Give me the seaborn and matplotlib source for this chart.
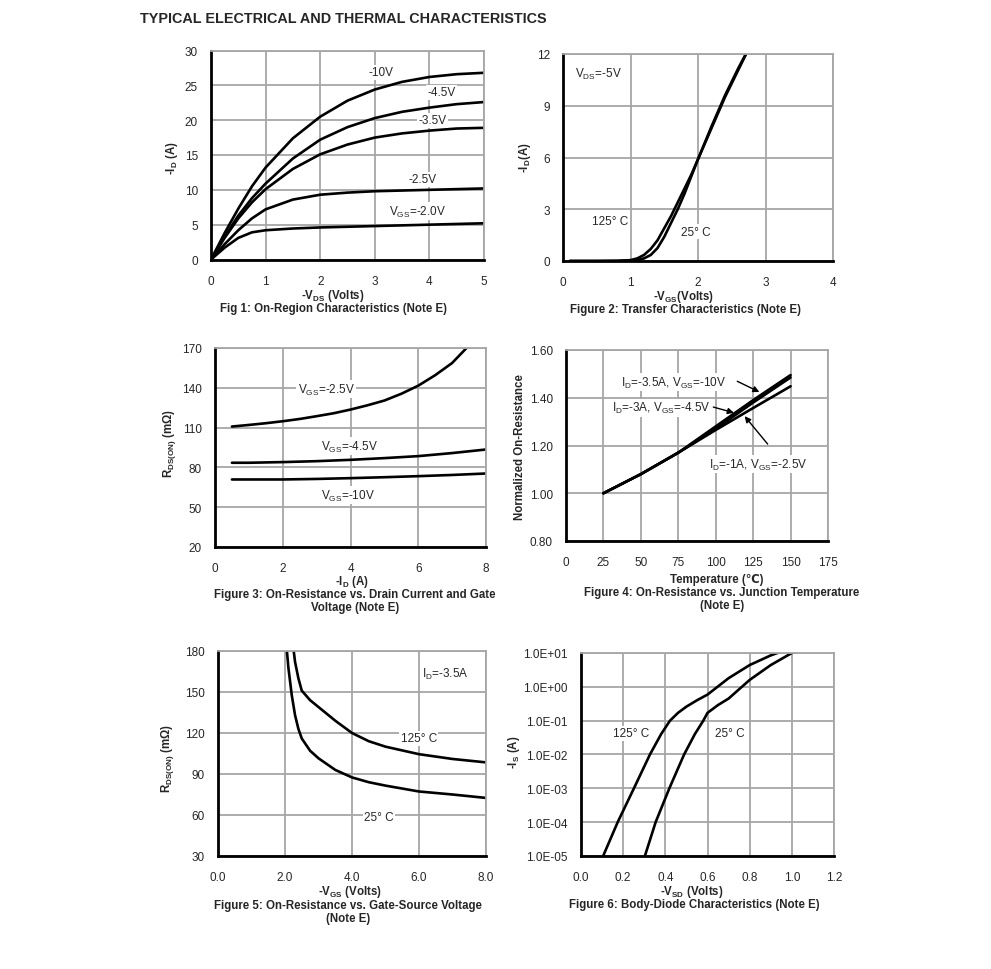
import matplotlib
matplotlib.use("Agg")
import matplotlib.pyplot as plt
import pandas as pd
import seaborn as sns

W, H = 991, 970
GRID = "#a6a6a6"
LW = 1.9

# Fig 1: on-region characteristics
vds = [0, 0.25, 0.5, 0.75, 1, 1.5, 2, 2.5, 3, 3.5, 4, 4.5, 5]
id_vgs_10 = [0, 3.8, 7.3, 10.5, 13.2, 17.4, 20.5, 22.8, 24.4, 25.5, 26.2, 26.6, 26.8]
id_vgs_45 = [0, 3.3, 6.3, 8.8, 10.9, 14.5, 17.2, 19.0, 20.3, 21.2, 21.8, 22.3, 22.6]
id_vgs_35 = [0, 3.1, 5.9, 8.2, 10.1, 13.0, 15.1, 16.5, 17.5, 18.1, 18.5, 18.8, 18.9]
id_vgs_25 = [0, 2.2, 4.2, 5.9, 7.2, 8.6, 9.3, 9.6, 9.8, 9.9, 10.0, 10.1, 10.2]
id_vgs_20 = [0, 1.7, 3.1, 3.9, 4.2, 4.45, 4.6, 4.7, 4.8, 4.9, 5.0, 5.1, 5.2]

# Fig 2: transfer characteristics
vgs_t = [0.1, 0.5, 0.8, 1.0, 1.1, 1.2, 1.3, 1.4, 1.5, 1.6, 1.7, 1.8, 1.9, 2.0, 2.2, 2.4, 2.6, 2.75]
id_t125 = [0, 0, 0.01, 0.05, 0.15, 0.35, 0.7, 1.2, 1.9, 2.6, 3.4, 4.2, 5.0, 5.9, 7.7, 9.5, 11.1, 12.3]
id_t25 = [0, 0, 0.005, 0.02, 0.06, 0.15, 0.35, 0.75, 1.4, 2.2, 3.0, 3.9, 4.9, 5.9, 7.8, 9.6, 11.2, 12.3]

# Fig 3: Rds(on) vs drain current
id_r25 = [0.5, 1, 1.5, 2, 2.5, 3, 3.5, 4, 4.5, 5, 5.5, 6, 6.5, 7, 7.5]
r_vgs25 = [110.8, 112, 113.3, 114.8, 116.5, 118.6, 120.8, 123.6, 126.8, 130.4, 135.5, 141.6, 149.5, 158.7, 172]
id_r = [0.5, 1, 2, 3, 4, 5, 6, 7, 8]
r_vgs45 = [83.5, 83.5, 84.0, 84.7, 85.7, 87.0, 88.5, 90.8, 93.5]
r_vgs10 = [70.9, 70.9, 70.9, 71.3, 71.9, 72.6, 73.4, 74.3, 75.4]

# Fig 4: normalized Rds(on) vs temperature
temp = [25, 50, 75, 100, 125, 150]
rn_10v = [1.00, 1.08, 1.17, 1.28, 1.39, 1.495]
rn_45v = [1.00, 1.08, 1.17, 1.27, 1.38, 1.485]
rn_25v = [1.00, 1.08, 1.17, 1.265, 1.357, 1.448]

# Fig 5: Rds(on) vs gate-source voltage
vgs_125 = [2.25, 2.3, 2.4, 2.5, 2.75, 3, 3.5, 4, 4.5, 5, 6, 7, 8]
r_125 = [182, 172, 160, 151, 144, 139, 129, 120, 114, 110, 104.5, 101, 98.5]
vgs_25 = [2.05, 2.1, 2.2, 2.3, 2.4, 2.5, 2.75, 3, 3.5, 4, 4.5, 5, 6, 7, 8]
r_25 = [182, 168, 148, 133, 123, 116, 107, 101.5, 93, 87.5, 84, 81.5, 77.2, 75, 72.5]

# Fig 6: body-diode characteristics
vsd_125 = [0.105, 0.174, 0.251, 0.327, 0.38, 0.422, 0.46, 0.5, 0.55, 0.6, 0.7, 0.8, 0.9, 0.95]
is_125 = [1e-5, 1e-4, 1e-3, 1e-2, 4e-2, 0.1, 0.17, 0.26, 0.4, 0.59, 1.8, 4.4, 8.5, 11]
vsd_25 = [0.303, 0.354, 0.419, 0.489, 0.54, 0.58, 0.6, 0.65, 0.7, 0.8, 0.9, 1.0, 1.02]
is_25 = [1e-5, 1e-4, 1e-3, 1e-2, 4e-2, 0.1, 0.17, 0.29, 0.45, 1.6, 4.4, 10, 11]

sns.set_style("white")
plt.rcParams["font.family"] = ["Liberation Sans", "DejaVu Sans"]
plt.rcParams["mathtext.fontset"] = "custom"
plt.rcParams["mathtext.rm"] = "Liberation Sans"
plt.rcParams["mathtext.bf"] = "Liberation Sans:bold"
plt.rcParams["axes.unicode_minus"] = False

fig = plt.figure(figsize=(W / 100, H / 100), dpi=100)


def make_ax(l, r, t, b):
    return fig.add_axes([l / W, 1 - b / H, (r - l) / W, (b - t) / H])


def ftext(x, y, s, **kw):
    kw.setdefault("fontsize", 8.3)
    kw.setdefault("fontweight", "bold")
    fig.text(x / W, 1 - y / H, s, ha="center", va="center", **kw)


def curve(ax, x, y):
    df = pd.DataFrame({"x": x, "y": y})
    sns.lineplot(data=df, x="x", y="y", ax=ax, color="black", lw=LW,
                 estimator=None, sort=False)


def style(ax, xlim, ylim, xticks, yticks):
    ax.set_xlim(xlim)
    ax.set_ylim(ylim)
    ax.set_xticks(xticks)
    ax.set_yticks(yticks)
    ax.grid(True, color=GRID, lw=1.3)
    ax.set_axisbelow(True)
    for s in ["top", "right"]:
        ax.spines[s].set_color(GRID)
        ax.spines[s].set_linewidth(1.3)
    for s in ["left", "bottom"]:
        ax.spines[s].set_color("black")
        ax.spines[s].set_linewidth(2)
    ax.tick_params(length=0, labelsize=8.5)
    ax.tick_params(axis="x", pad=11)
    ax.tick_params(axis="y", pad=9.5)
    ax.set_xlabel("")
    ax.set_ylabel("")


def label(ax, x, y, s, ha="center"):
    ax.text(x, y, s, ha=ha, va="center", fontsize=8.5,
            bbox=dict(facecolor="white", edgecolor="none", pad=1))


ftext(343, 19, "TYPICAL ELECTRICAL AND THERMAL CHARACTERISTICS", fontsize=10.4)

# ---- Fig 1
ax1 = make_ax(211, 484, 51.5, 260.5)
for ys in [id_vgs_10, id_vgs_45, id_vgs_35, id_vgs_25, id_vgs_20]:
    curve(ax1, vds, ys)
style(ax1, (0, 5), (0, 30), range(0, 6), range(0, 31, 5))
label(ax1, 3.12, 26.9, "-10V")
label(ax1, 4.22, 24.0, "-4.5V")
label(ax1, 4.06, 20.0, "-3.5V")
label(ax1, 3.88, 11.5, "-2.5V")
label(ax1, 3.79, 6.9, r"V$_\mathrm{GS}$=-2.0V")
ftext(172, 158, r"-I$_\mathbf{D}$ (A)", rotation=90)
ftext(333, 296, r"-V$_\mathbf{DS}$ (Volts)")
ftext(333, 309, "Fig 1: On-Region Characteristics (Note E)")

# ---- Fig 2
ax2 = make_ax(563, 833, 55, 262)
curve(ax2, vgs_t, id_t125)
curve(ax2, vgs_t, id_t25)
style(ax2, (0, 4), (0, 12), range(0, 5), range(0, 13, 3))
label(ax2, 0.18, 10.9, r"V$_\mathrm{DS}$=-5V", ha="left")
label(ax2, 0.70, 2.3, "125° C")
label(ax2, 1.97, 1.7, "25° C")
ftext(525, 158, r"-I$_\mathbf{D}$(A)", rotation=90)
ftext(683, 297, r"-V$_\mathbf{GS}$(Volts)")
ftext(685, 310, "Figure 2: Transfer Characteristics (Note E)")

# ---- Fig 3
ax3 = make_ax(215, 486, 349, 548)
curve(ax3, id_r25, r_vgs25)
curve(ax3, id_r, r_vgs45)
curve(ax3, id_r, r_vgs10)
style(ax3, (0, 8), (20, 170), range(0, 9, 2), range(20, 171, 30))
label(ax3, 3.29, 139.1, r"V$_\mathrm{GS}$=-2.5V")
label(ax3, 3.98, 96.0, r"V$_\mathrm{GS}$=-4.5V")
label(ax3, 3.93, 58.9, r"V$_\mathrm{GS}$=-10V")
ftext(170, 443, r"R$_\mathbf{DS(ON)}$ (mΩ)", rotation=90)
ftext(352, 582, r"-I$_\mathbf{D}$ (A)")
ftext(355, 595, "Figure 3: On-Resistance vs. Drain Current and Gate")
ftext(355, 608, "Voltage (Note E)")

# ---- Fig 4
ax4 = make_ax(566, 828, 351, 542)
curve(ax4, temp, rn_10v)
curve(ax4, temp, rn_45v)
curve(ax4, temp, rn_25v)
style(ax4, (0, 175), (0.8, 1.6), range(0, 176, 25), [0.8, 1.0, 1.2, 1.4, 1.6])
ax4.yaxis.set_major_formatter(plt.FuncFormatter(lambda v, p: f"{v:.2f}"))
label(ax4, 36.8, 1.466, r"I$_\mathrm{D}$=-3.5A, V$_\mathrm{GS}$=-10V", ha="left")
label(ax4, 30.8, 1.358, r"I$_\mathrm{D}$=-3A, V$_\mathrm{GS}$=-4.5V", ha="left")
label(ax4, 95.7, 1.122, r"I$_\mathrm{D}$=-1A, V$_\mathrm{GS}$=-2.5V", ha="left")
arrows = [((114.4, 1.469), (129.2, 1.424)),
          ((98.4, 1.361), (112.2, 1.337)),
          ((134.7, 1.206), (119.3, 1.323))]
for start, end in arrows:
    ax4.annotate("", xy=end, xytext=start,
                 arrowprops=dict(arrowstyle="-|>", color="black", lw=1,
                                 mutation_scale=9, shrinkA=0, shrinkB=0))
ftext(520, 447, "Normalized On-Resistance", rotation=90)
ftext(717, 580, "Temperature (℃)")
ftext(722, 593, "Figure 4: On-Resistance vs. Junction Temperature")
ftext(722, 606, "(Note E)")

# ---- Fig 5
ax5 = make_ax(218, 486, 652, 857)
curve(ax5, vgs_125, r_125)
curve(ax5, vgs_25, r_25)
style(ax5, (0, 8), (30, 180), range(0, 9, 2), range(30, 181, 30))
ax5.xaxis.set_major_formatter(plt.FuncFormatter(lambda v, p: f"{v:.1f}"))
label(ax5, 6.79, 163.5, r"I$_\mathrm{D}$=-3.5A")
label(ax5, 5.99, 116, "125° C")
label(ax5, 4.8, 58.4, "25° C")
ftext(168, 758, r"R$_\mathbf{DS(ON)}$ (mΩ)", rotation=90)
ftext(350, 892, r"-V$_\mathbf{GS}$ (Volts)")
ftext(348, 906, "Figure 5: On-Resistance vs. Gate-Source Voltage")
ftext(348, 919, "(Note E)")

# ---- Fig 6
ax6 = make_ax(581, 834, 654, 857)
curve(ax6, vsd_125, is_125)
curve(ax6, vsd_25, is_25)
ax6.set_yscale("log")
style(ax6, (0, 1.2), (1e-5, 1e1), [0, 0.2, 0.4, 0.6, 0.8, 1.0, 1.2],
      [1e-5, 1e-4, 1e-3, 1e-2, 1e-1, 1e0, 1e1])
ax6.minorticks_off()
ax6.grid(False, which="minor")
ax6.xaxis.set_major_formatter(plt.FuncFormatter(lambda v, p: f"{v:.1f}"))
ax6.yaxis.set_major_formatter(plt.FuncFormatter(lambda v, p: f"{v:.1E}"))
label(ax6, 0.236, 0.042, "125° C")
label(ax6, 0.707, 0.042, "25° C")
ftext(514, 752, r"-I$_\mathbf{S}$ (A)", rotation=90)
ftext(692, 892, r"-V$_\mathbf{SD}$ (Volts)")
ftext(694, 905, "Figure 6: Body-Diode Characteristics (Note E)")

fig.savefig("out.png", dpi=100, facecolor="white")
